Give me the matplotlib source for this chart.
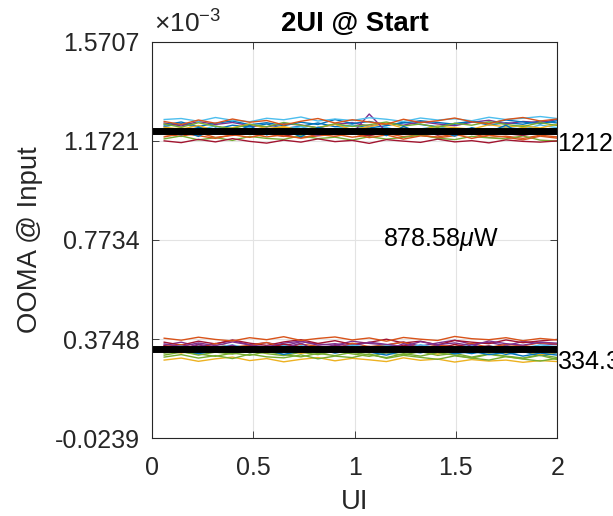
import numpy as np
import matplotlib
matplotlib.use("Agg")
import matplotlib.pyplot as plt

plt.rcParams['font.family'] = ['Liberation Sans', 'DejaVu Sans']
plt.rcParams['mathtext.fontset'] = 'custom'
plt.rcParams['mathtext.rm'] = 'Liberation Sans'
plt.rcParams['mathtext.it'] = 'Liberation Sans:italic'

# sample positions (UI)
ui = [0.06, 0.144, 0.229, 0.313, 0.397, 0.482, 0.566, 0.65, 0.735, 0.819, 0.903, 0.988,
      1.072, 1.157, 1.241, 1.325, 1.41, 1.494, 1.578, 1.663, 1.747, 1.831, 1.916, 2.0]

# upper level traces (uW)
upper = [
    [1230,1241,1226,1219,1235,1228,1240,1222,1231,1244,1229,1236,1224,1233,1247,1238,1229,1242,1250,1236,1245,1239,1252,1244],
    [1198,1190,1205,1186,1194,1201,1188,1196,1183,1192,1199,1187,1195,1202,1189,1197,1184,1193,1200,1186,1191,1182,1195,1188],
    [1215,1225,1209,1220,1212,1203,1218,1226,1210,1217,1205,1221,1213,1208,1224,1211,1219,1206,1223,1214,1209,1227,1216,1221],
    [1244,1232,1250,1238,1246,1234,1228,1241,1236,1224,1239,1245,1231,1243,1235,1249,1240,1233,1247,1255,1241,1250,1246,1258],
    [1180,1192,1176,1185,1174,1190,1182,1178,1193,1181,1187,1175,1189,1179,1186,1195,1183,1177,1190,1184,1180,1192,1175,1171],
    [1222,1208,1216,1232,1214,1224,1207,1219,1229,1212,1221,1234,1217,1226,1209,1220,1231,1215,1224,1211,1228,1218,1236,1225],
    [1205,1214,1199,1208,1196,1211,1202,1190,1206,1215,1197,1204,1193,1209,1200,1213,1195,1207,1198,1210,1201,1194,1206,1199],
    [1236,1248,1230,1243,1252,1237,1245,1233,1247,1238,1258,1242,1250,1236,1244,1253,1246,1239,1251,1243,1256,1248,1241,1253],
    [1188,1201,1193,1182,1197,1186,1200,1191,1184,1198,1190,1203,1185,1196,1179,1192,1188,1199,1182,1195,1187,1176,1191,1183],
    [1227,1219,1234,1212,1225,1240,1221,1230,1214,1226,1238,1218,1229,1243,1223,1216,1232,1225,1219,1237,1228,1233,1224,1239],
    [1210,1196,1213,1203,1220,1206,1199,1214,1204,1195,1209,1201,1280,1208,1198,1212,1203,1217,1206,1213,1199,1208,1216,1203],
    [1240,1227,1245,1231,1222,1238,1229,1246,1235,1225,1241,1230,1237,1248,1232,1240,1226,1243,1235,1249,1238,1230,1245,1234],
    [1258,1262,1251,1266,1255,1249,1263,1257,1268,1252,1260,1254,1265,1259,1250,1264,1256,1261,1253,1267,1258,1263,1270,1262],
    [1172,1165,1178,1168,1181,1170,1163,1175,1167,1180,1169,1174,1162,1177,1171,1166,1179,1168,1173,1164,1176,1170,1167,1172],
    [1200,1215,1190,1224,1205,1233,1196,1218,1188,1227,1210,1199,1221,1193,1230,1204,1216,1191,1225,1208,1235,1197,1220,1212],
    [1250,1238,1256,1243,1260,1247,1254,1236,1251,1262,1244,1257,1248,1239,1259,1246,1253,1264,1249,1241,1258,1266,1252,1260],
]

# lower level traces (uW)
lower = [
    [350,362,345,356,368,352,360,347,364,355,349,366,357,351,363,346,359,370,354,361,348,365,356,352],
    [318,325,310,322,314,328,316,308,321,312,326,315,305,319,311,324,309,317,302,315,306,298,312,300],
    [340,331,347,336,329,343,334,350,338,327,345,333,341,352,337,330,346,339,332,348,335,342,329,338],
    [362,350,366,355,371,358,349,363,372,357,368,353,361,374,359,366,351,369,362,356,371,360,367,373],
    [325,337,321,332,318,330,340,324,335,320,331,343,327,318,334,322,338,326,316,329,313,324,308,319],
    [345,352,338,357,343,349,361,340,354,346,337,358,344,351,362,339,350,345,357,341,353,347,360,355],
    [330,318,335,324,339,327,320,333,317,329,336,322,331,319,340,326,314,332,323,335,318,327,311,321],
    [355,345,359,348,363,351,343,358,366,350,356,347,362,353,345,364,352,359,348,367,356,350,362,358],
    [310,322,315,305,318,309,324,312,303,317,308,321,311,300,316,306,320,310,298,313,304,296,309,292],
    [338,346,332,342,351,336,344,330,348,339,333,350,341,347,335,352,338,343,349,334,345,339,351,344],
    [348,335,352,341,330,346,338,354,343,332,349,337,345,331,350,342,336,353,340,347,333,344,329,337],
    [323,331,316,327,335,320,329,313,326,334,318,330,322,310,327,319,333,315,325,312,321,306,318,310],
    [378,370,382,373,367,380,372,384,369,377,383,371,379,366,381,374,369,385,376,372,380,368,377,371],
    [290,298,285,295,302,288,296,283,293,300,287,297,291,284,299,289,294,282,292,286,290,281,288,284],
    [344,328,355,333,350,322,347,338,358,326,352,335,343,329,356,337,348,324,353,332,345,327,341,330],
    [302,312,298,308,296,314,303,299,311,295,306,300,315,297,309,301,293,307,298,290,304,294,286,297],
]

level_hi = 1212.96   # uW
level_lo = 334.38    # uW
oma_label = r'878.58$\mu$W'

ytick_labels = ['-0.0239', '0.3748', '0.7734', '1.1721', '1.5707']
xtick_labels = ['0', '0.5', '1', '1.5', '2']
y_min, y_max = -0.0239, 1.5707   # x 1e-3

colors = ['#0072BD', '#D95319', '#EDB120', '#7E2F8E', '#77AC30', '#4DBEEE', '#A2142F']

fig = plt.figure(figsize=(6.13, 5.16), dpi=100)
ax = fig.add_axes([0.248, 0.151, 0.661, 0.768])

x = np.array(ui)
for i in range(len(upper)):
    ax.plot(x, np.array(upper[i]) / 1000, color=colors[i % 7], lw=1.0)
for i in range(len(lower)):
    ax.plot(x, np.array(lower[i]) / 1000, color=colors[(i + 3) % 7], lw=1.0)

ax.axhline(level_hi / 1000, color='black', lw=5)
ax.axhline(level_lo / 1000, color='black', lw=5)

fs = 18
ax.text(2.0, level_hi / 1000, '%.2f$\\mu$W' % level_hi, fontsize=fs, va='top', ha='left', clip_on=False)
ax.text(2.0, level_lo / 1000, '%.2f$\\mu$W' % level_lo, fontsize=fs, va='top', ha='left', clip_on=False)
ax.text(1.14, (level_hi + level_lo) / 2000, oma_label, fontsize=fs, va='center', ha='left')

ax.set_xlim(0, 2)
ax.set_ylim(y_min, y_max)
ax.set_xticks(np.arange(5) * 0.5)
ax.set_xticklabels(xtick_labels)
ax.set_yticks(np.linspace(y_min, y_max, 5))
ax.set_yticklabels(ytick_labels)
ax.tick_params(direction='in', length=5, width=0.6, labelsize=fs, colors='#262626',
               top=True, right=True)
ax.tick_params(axis='x', pad=13)
ax.tick_params(axis='y', pad=9)
ax.grid(True, color='#e3e3e3', lw=0.8)
ax.set_axisbelow(True)
for s in ax.spines.values():
    s.set_color('#262626')
    s.set_linewidth(0.8)

ax.set_xlabel('UI', fontsize=19.8, color='#262626')
ax.xaxis.set_label_coords(0.5, -0.128)
ax.set_ylabel('OOMA @ Input', fontsize=19.8, color='#262626')
ax.yaxis.set_label_coords(-0.268, 0.5)
ax.set_title('2UI @ Start', fontsize=19.8, fontweight='bold', pad=8)
ax.text(0.005, 1.022, r'$\times10^{-3}$', transform=ax.transAxes, fontsize=19,
        color='#262626', ha='left', va='baseline')

fig.savefig('out.png', dpi=100)
